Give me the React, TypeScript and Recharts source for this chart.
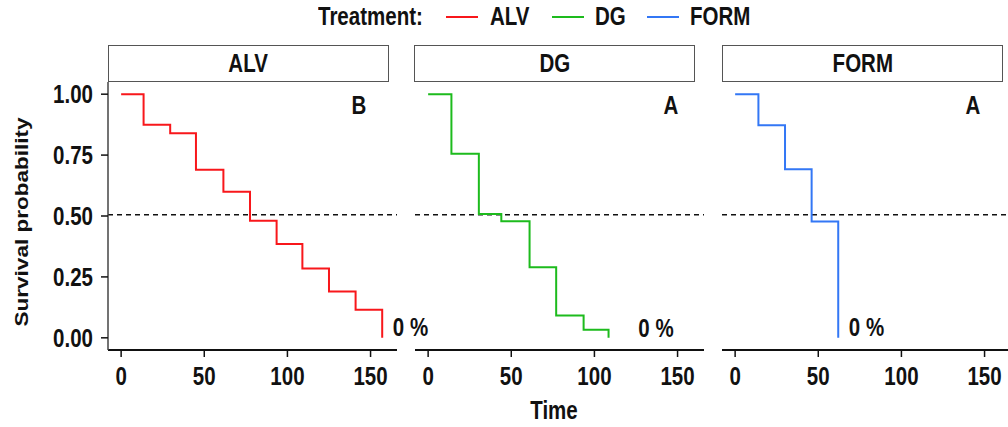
import React from "react";
import {
  LineChart,
  Line,
  XAxis,
  YAxis,
  ReferenceLine,
  ReferenceDot,
} from "recharts";

// groups and their Kaplan-Meier steps (time, survival)
const TREATMENTS = ["ALV", "DG", "FORM"];
const COLORS = ["#F8171B", "#1DBB1D", "#3377F5"];

const ALV_TIME = [0, 13.5, 29.5, 45, 61.5, 77.5, 93.5, 109, 125, 141, 157];
const ALV_SURV = [1, 0.875, 0.84, 0.69, 0.6, 0.48, 0.385, 0.285, 0.19, 0.115, 0];
const DG_TIME = [0, 14, 30.5, 44, 61, 77, 93.5, 108.5];
const DG_SURV = [1, 0.755, 0.508, 0.478, 0.29, 0.092, 0.033, 0];
const FORM_TIME = [0, 14, 30, 46, 62];
const FORM_SURV = [1, 0.872, 0.692, 0.477, 0];

const TIMES = [ALV_TIME, DG_TIME, FORM_TIME];
const SURVS = [ALV_SURV, DG_SURV, FORM_SURV];

// group letters and final survival text
const GROUP_LETTERS = ["B", "A", "A"];
const FINAL_PCT = ["0 %", "0 %", "0 %"];

const X_TICKS = [0, 50, 100, 150];
const Y_TICKS = [0, 0.25, 0.5, 0.75, 1];
const MEDIAN = 0.505;

// no narrow font installed, so squeeze the bold sans horizontally
const FONT = "'Liberation Sans', Arial, sans-serif";
const SQUEEZE = 0.82;
const INK = "#111";

const W = 1030;
const H = 427;
const PLOT_TOP = 82;
const PLOT_BOTTOM = 350;
const PANEL_LEFT = [108, 415, 722];
const PANEL_W = 289;
const STRIP_LEFT = [108, 414, 722];
const STRIP_W = 281;

// where the letters and "0 %" sit, in data units
const LETTER_AT = [
  { t: 143, s: 0.955 },
  { t: 146, s: 0.955 },
  { t: 143, s: 0.955 },
];
const PCT_AT = [
  { t: 174, s: 0.045 },
  { t: 137, s: 0.04 },
  { t: 79, s: 0.044 },
];

const NarrowText = ({ x, y, anchor, dy, children }: any) => (
  <text
    transform={`translate(${x},${y}) scale(${SQUEEZE},1)`}
    textAnchor={anchor}
    dy={dy}
    fill={INK}
    fontSize={25}
    fontWeight={700}
    fontFamily={FONT}
  >
    {children}
  </text>
);

const XTick = (p: any) => (
  <NarrowText x={p.x} y={p.y} anchor="middle" dy="0.71em">
    {p.payload.value}
  </NarrowText>
);

const YTick = (p: any) => (
  <NarrowText x={p.x} y={p.y} anchor="end" dy="0.355em">
    {Number(p.payload.value).toFixed(2)}
  </NarrowText>
);

const centerLabel = (text: string) => (p: any) => {
  const vb = p.viewBox || {};
  return (
    <NarrowText x={vb.x + vb.width / 2} y={vb.y + vb.height / 2} anchor="middle" dy="0.355em">
      {text}
    </NarrowText>
  );
};

const Panel = ({ idx }: { idx: number }) => {
  const data = TIMES[idx].map((t, k) => ({ t, s: SURVS[idx][k] }));
  const left = PANEL_LEFT[idx];
  const yw = idx === 0 ? 60 : 0;
  const xh = 40;
  return (
    <div style={{ position: "absolute", left: 0, top: 0 }}>
      <LineChart
        width={W}
        height={H}
        data={data}
        margin={{
          top: PLOT_TOP,
          bottom: H - PLOT_BOTTOM - xh,
          left: left - yw,
          right: W - left - PANEL_W,
        }}
      >
        <XAxis
          type="number"
          dataKey="t"
          domain={[-7.9, 165.9]}
          ticks={X_TICKS}
          interval={0}
          height={xh}
          tickSize={7}
          tickMargin={10}
          axisLine={{ stroke: INK, strokeWidth: 2 }}
          tickLine={{ stroke: INK, strokeWidth: 1.5 }}
          tick={<XTick />}
        />
        <YAxis
          type="number"
          domain={[-0.05, 1.05]}
          ticks={Y_TICKS}
          interval={0}
          hide={idx !== 0}
          width={yw || 60}
          tickSize={7}
          tickMargin={8}
          axisLine={{ stroke: "#444", strokeWidth: 1.5 }}
          tickLine={{ stroke: INK, strokeWidth: 1.5 }}
          tick={<YTick />}
        />
        <ReferenceLine y={MEDIAN} stroke={INK} strokeWidth={1.5} strokeDasharray="5 4" />
        <Line
          type="stepAfter"
          dataKey="s"
          stroke={COLORS[idx]}
          strokeWidth={2}
          dot={false}
          isAnimationActive={false}
        />
        <ReferenceDot
          x={LETTER_AT[idx].t}
          y={LETTER_AT[idx].s}
          r={1}
          fill="none"
          stroke="none"
          ifOverflow="visible"
          label={{ content: centerLabel(GROUP_LETTERS[idx]) }}
        />
        <ReferenceDot
          x={PCT_AT[idx].t}
          y={PCT_AT[idx].s}
          r={1}
          fill="none"
          stroke="none"
          ifOverflow="visible"
          label={{ content: centerLabel(FINAL_PCT[idx]) }}
        />
      </LineChart>
    </div>
  );
};

const html = {
  fontFamily: FONT,
  fontWeight: 700,
  fontSize: 25,
  color: INK,
  position: "absolute" as const,
  lineHeight: "28px",
  whiteSpace: "nowrap" as const,
  transform: `scaleX(${SQUEEZE})`,
  transformOrigin: "left center",
};

const legendItems = [
  { line: 446, text: 490 },
  { line: 552, text: 595 },
  { line: 647, text: 690 },
];

export default function App() {
  return (
    <div
      style={{
        position: "absolute",
        left: 0,
        top: 0,
        width: 1008,
        height: 427,
        overflow: "hidden",
        background: "#fff",
      }}
    >
      {TREATMENTS.map((_, i) => (
        <Panel key={i} idx={i} />
      ))}

      {/* legend */}
      <div style={{ ...html, left: 318, top: 2 }}>Treatment:</div>
      {TREATMENTS.map((name, i) => (
        <React.Fragment key={name}>
          <div
            style={{
              position: "absolute",
              left: legendItems[i].line,
              top: 16,
              width: 32,
              height: 2,
              background: COLORS[i],
            }}
          />
          <div style={{ ...html, left: legendItems[i].text, top: 2 }}>{name}</div>
        </React.Fragment>
      ))}

      {/* facet strips */}
      {TREATMENTS.map((name, i) => (
        <div
          key={name}
          style={{
            position: "absolute",
            left: STRIP_LEFT[i],
            top: 45,
            width: STRIP_W,
            height: 37,
            boxSizing: "border-box",
            border: "1.5px solid #555",
            textAlign: "center",
          }}
        >
          <span
            style={{
              ...html,
              position: "relative",
              display: "inline-block",
              lineHeight: "34px",
              transformOrigin: "center center",
            }}
          >
            {name}
          </span>
        </div>
      ))}

      {/* axis titles */}
      <div
        style={{
          ...html,
          fontSize: 22.5,
          left: 22,
          top: 222,
          transformOrigin: "0 0",
          transform: `scaleX(${SQUEEZE}) rotate(-90deg) translate(-50%, -50%)`,
        }}
      >
        Survival probability
      </div>
      <div
        style={{
          ...html,
          left: 554,
          top: 396,
          transformOrigin: "0 0",
          transform: `scaleX(${SQUEEZE}) translateX(-50%)`,
        }}
      >
        Time
      </div>
    </div>
  );
}
